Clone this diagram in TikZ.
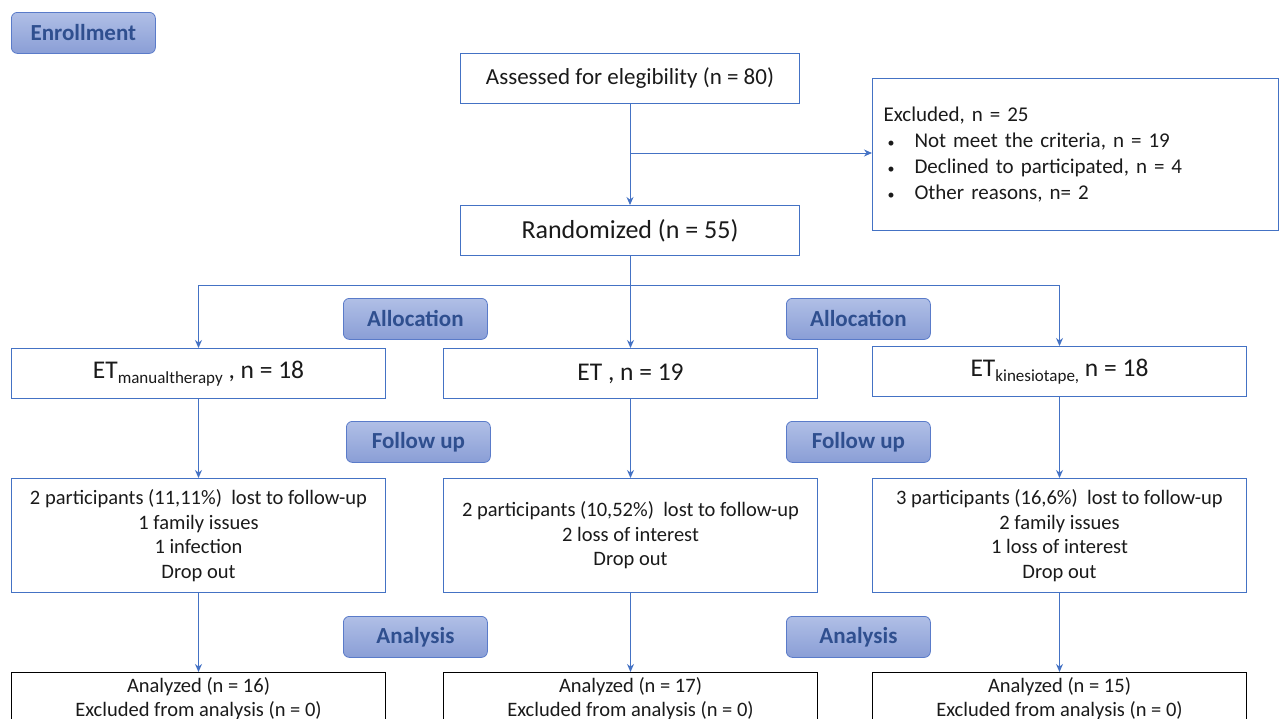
\documentclass[tikz,border=0pt]{standalone}
\usepackage{fontspec}
\setmainfont{Carlito}
\usetikzlibrary{positioning,arrows.meta}

\definecolor{lineblue}{HTML}{4472C4}
\definecolor{stagetop}{HTML}{B0BFE6}
\definecolor{stagebottom}{HTML}{8A9ED6}
\definecolor{stageline}{HTML}{5A7BC9}
\definecolor{stagetext}{HTML}{2F4F8F}
\definecolor{boxtext}{HTML}{1A1A1A}
\newcommand{\armsub}[1]{{\fontsize{17}{17}\selectfont\raisebox{-5pt}{#1}}}
\newcommand{\exclitem}{\hspace*{4pt}\makebox[27pt][l]{\fontsize{14}{14}\selectfont\textbullet}}

\begin{document}
\begin{tikzpicture}[x=1pt,y=-1pt,->,>={Stealth[length=8pt,width=7pt]},line width=1pt,draw=lineblue,
    box/.style={draw=lineblue,line width=1pt,inner sep=0pt,anchor=north west,text=boxtext,align=center},
    armbox/.style={box,minimum width=374pt,minimum height=50pt,font=\fontsize{25.5}{28}\selectfont},
    dropbox/.style={box,minimum width=374pt,minimum height=114pt,font=\fontsize{20.5}{24.5}\selectfont},
    resultbox/.style={box,draw=black,minimum width=374pt,minimum height=52pt,font=\fontsize{20.5}{24}\selectfont},
    stage/.style={draw=stageline,line width=0.8pt,rounded corners=6pt,top color=stagetop,bottom color=stagebottom,text=stagetext,font=\fontsize{23}{23}\selectfont\bfseries,minimum width=144pt,minimum height=41pt,anchor=north west,inner sep=0pt}]

            \clip (0,0) rectangle (1280,718);

            \node[stage] (enroll) at (11,12) {Enrollment};
            \node[box, minimum width=339pt, minimum height=50pt, font=\fontsize{23}{26}\selectfont] (assessed) at (460,53) {Assessed for elegibility (n = 80)};
            \node[box, minimum width=406pt, minimum height=152pt, text width=384pt, align=left, font=\fontsize{21}{26}\selectfont] (excl) at (872,78) {Excluded, n = 25\\
                \exclitem Not meet the criteria, n = 19\\
                \exclitem Declined to participated, n = 4\\
                \exclitem Other reasons, n= 2};
            \node[box, minimum width=339pt, minimum height=50pt, font=\fontsize{26}{28}\selectfont] (random) at (460,205) {Randomized (n = 55)};

            \node[stage] (alloc1) at (343,298) {Allocation};
            \node[stage] (alloc2) at (786,298) {Allocation};

            \node[armbox] (arm1) at (11,348) {ET\armsub{manualtherapy} , n = 18};
            \node[armbox] (arm2) at (443,348) {ET , n = 19};
            \node[armbox] (arm3) at (872,346) {ET\armsub{kinesiotape,} n = 18};

            \node[stage] (follow1) at (346,421) {Follow up};
            \node[stage] (follow2) at (786,421) {Follow up};

            \node[dropbox] (drop1) at (11,478) {2 participants (11,11\%)~ lost to follow-up\\ 1 family issues\\ 1 infection\\ Drop out};
            \node[dropbox] (drop2) at (443,478) {2 participants (10,52\%)~ lost to follow-up\\ 2 loss of interest\\ Drop out};
            \node[dropbox] (drop3) at (872,478) {3 participants (16,6\%)~ lost to follow-up\\ 2 family issues\\ 1 loss of interest\\ Drop out};

            \node[stage] (analysis1) at (343,616) {Analysis};
            \node[stage] (analysis2) at (786,616) {Analysis};

            \node[resultbox] (result1) at (11,672) {Analyzed (n = 16)\\ Excluded from analysis (n = 0)};
            \node[resultbox] (result2) at (443,672) {Analyzed (n = 17)\\ Excluded from analysis (n = 0)};
            \node[resultbox] (result3) at (872,672) {Analyzed (n = 15)\\ Excluded from analysis (n = 0)};

            \coordinate (branch) at (assessed.south |- 0,153);
            \coordinate (split) at (random.south |- 0,285);

            \draw (assessed) -- (random);
            \draw (branch) -- (branch -| excl.west);
            \draw[-] (random) -- (split);
            \draw (split) -| (arm1);
            \draw (split) -- (split -| arm2.north) -- (arm2);
            \draw (split) -| (arm3);

            \draw (arm1) -- (drop1);
            \draw (arm2) -- (drop2);
            \draw (arm3) -- (drop3);
            \draw (drop1) -- (result1);
            \draw (drop2) -- (result2);
            \draw (drop3) -- (result3);
        \end{tikzpicture}
\end{document}
